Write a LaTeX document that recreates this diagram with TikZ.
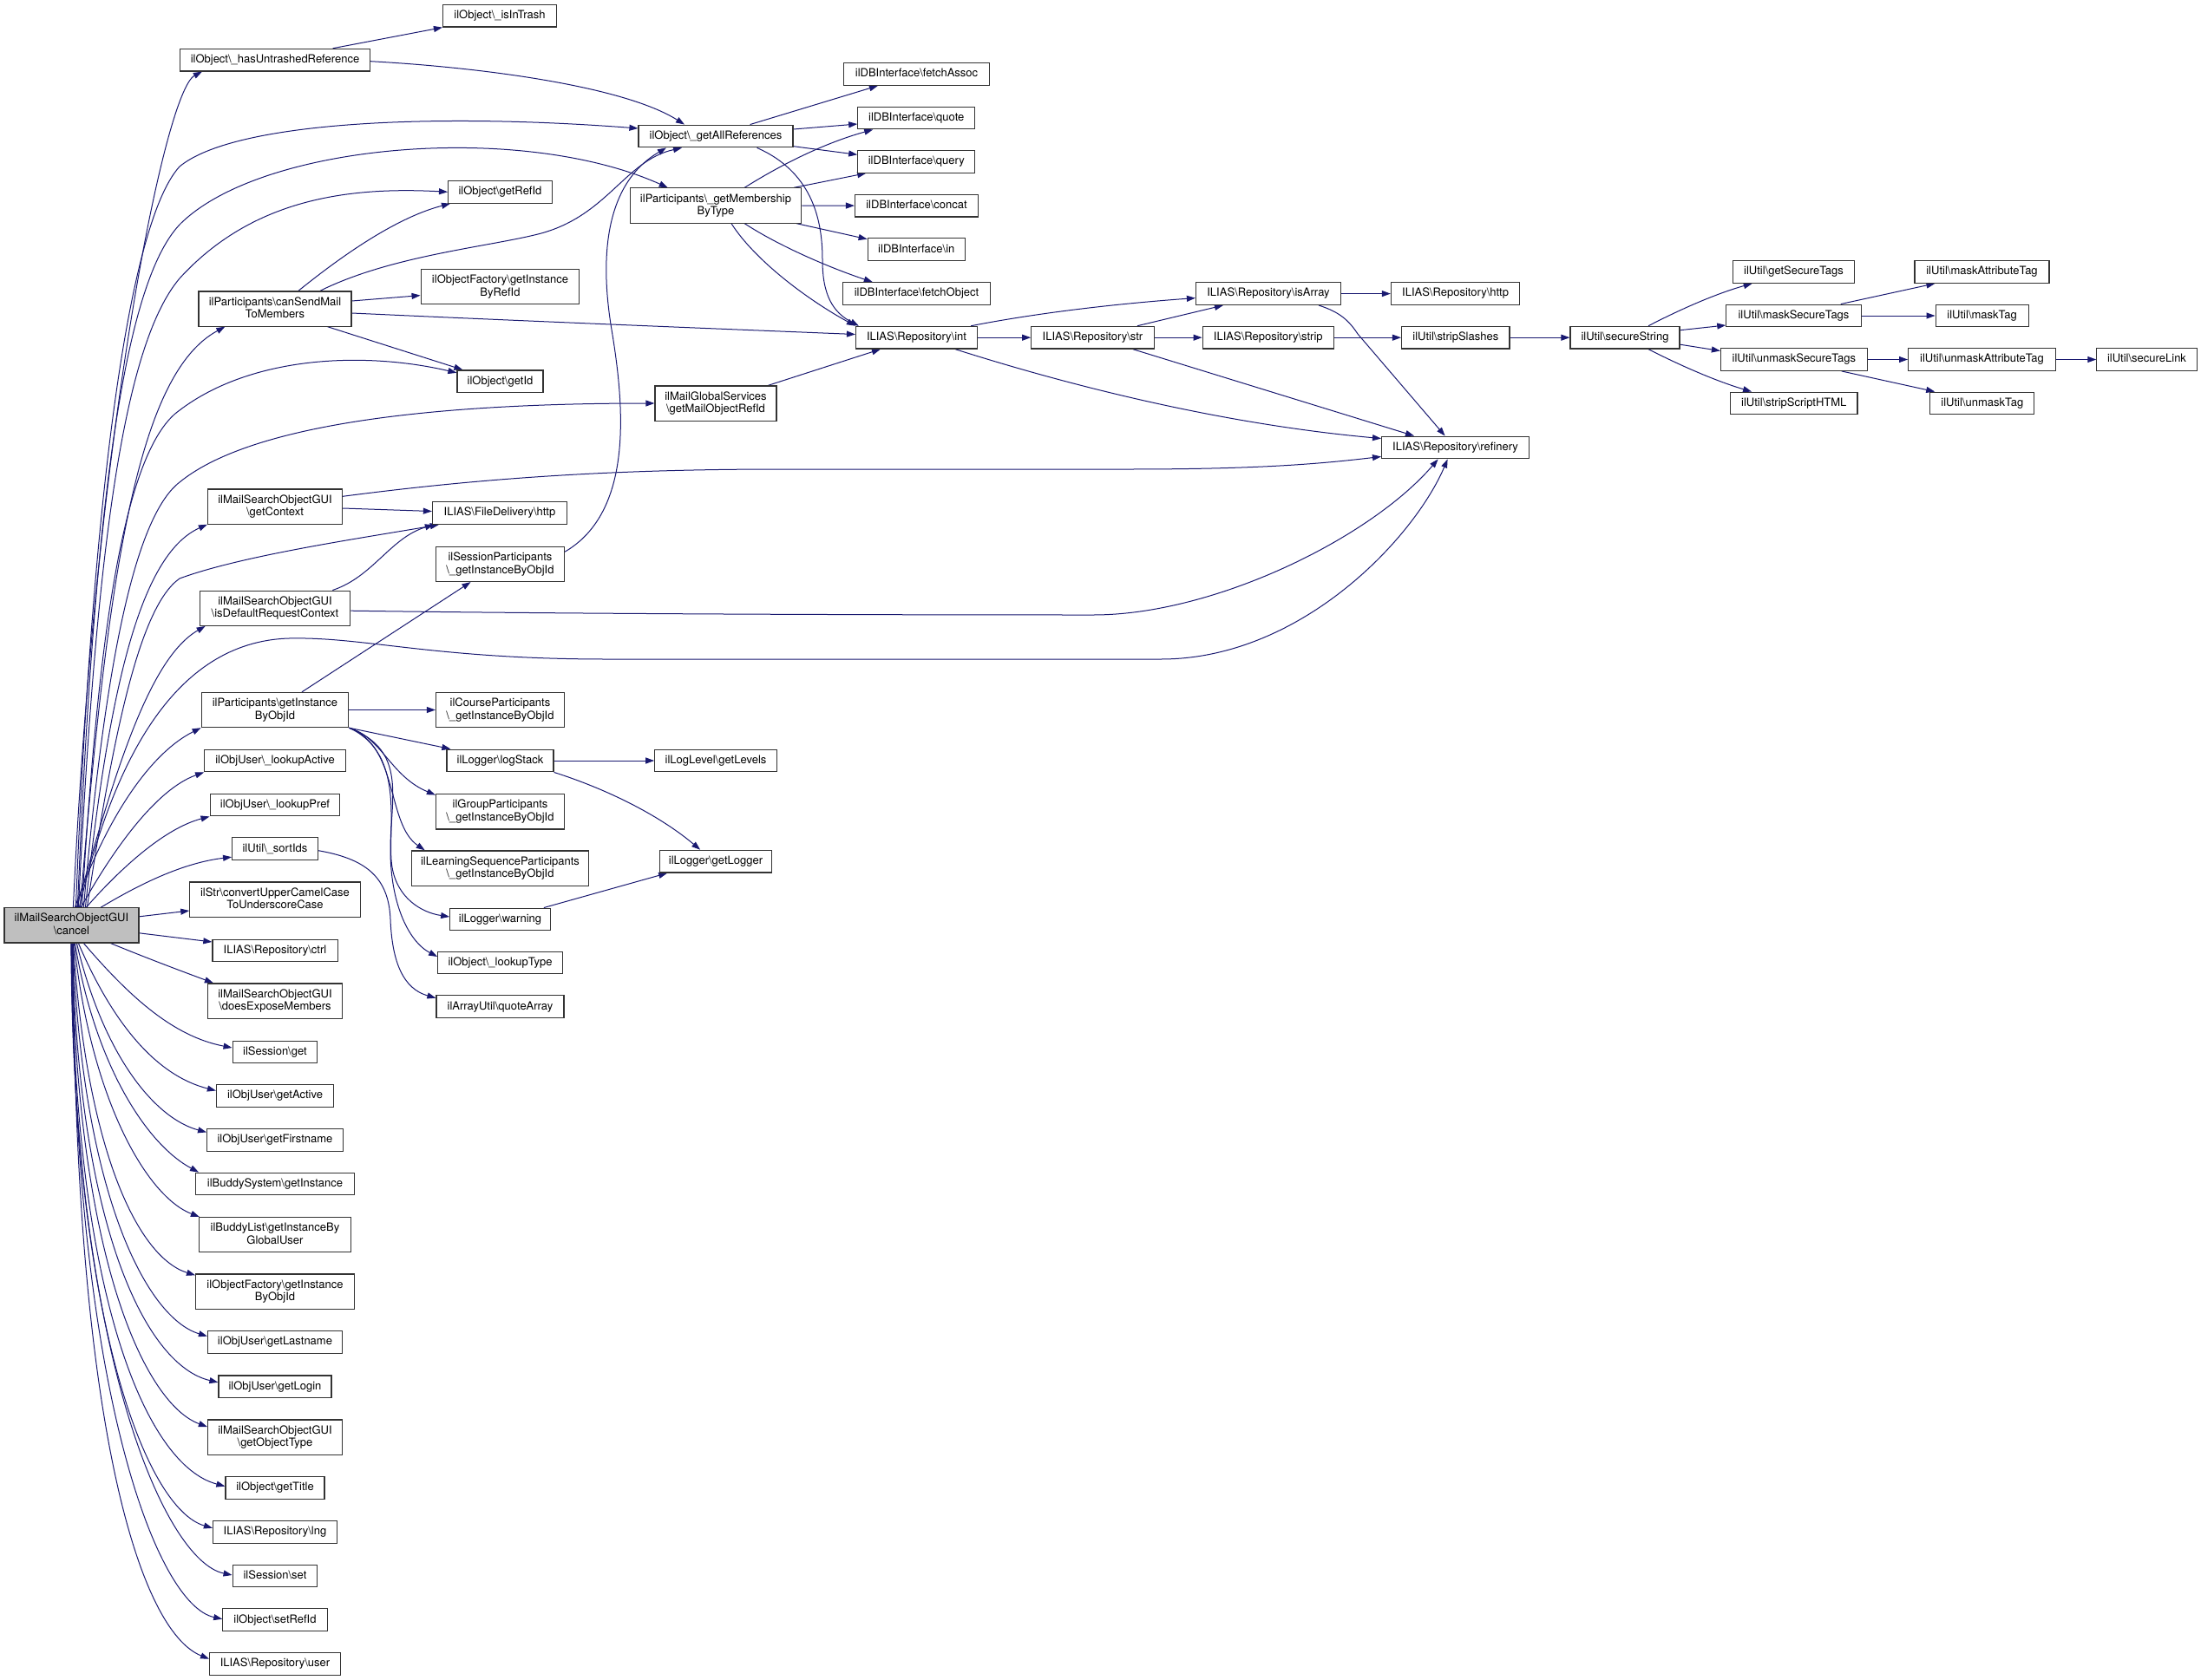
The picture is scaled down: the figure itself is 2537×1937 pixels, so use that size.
\documentclass[tikz,border=0pt]{standalone}
\usepackage{fontspec}
\setmainfont{TeX Gyre Heros}
\usetikzlibrary{arrows.meta,calc}
\pgfdeclarelayer{bg}
\pgfsetlayers{bg,main}
\definecolor{edgec}{HTML}{191970}
\definecolor{boxline}{HTML}{333333}
\definecolor{cancelfill}{HTML}{BFBFBF}
\begin{document}
\begin{tikzpicture}[x=1pt,y=-1pt,
  box/.style={draw=boxline, line width=1.2pt, fill=white, inner sep=0pt, align=center, font=\fontsize{13}{14.5}\selectfont},
  one/.style={box, text height=9.5pt, text depth=2.8pt, minimum height=25.7pt},
  two/.style={box, text height=24pt, text depth=2.8pt, minimum height=40.2pt},
  edge/.style={draw=edgec, line width=1pt, -{Triangle[length=10pt,width=7pt]}}]
\useasboundingbox (0,0) rectangle (2537,1937);
% root
\node[two, fill=cancelfill, minimum width=155pt] (cancel) at (82.4,1066.8) {ilMailSearchObjectGUI\\\textbackslash cancel};
% column A
\node[one, minimum width=219pt] (hasun) at (317,69.2) {ilObject\textbackslash\_hasUntrashedReference};
\node[two, minimum width=176pt] (cansend) at (317,356) {ilParticipants\textbackslash canSendMail\\ToMembers};
\node[two, minimum width=155pt] (getcontext) at (317,584) {ilMailSearchObjectGUI\\\textbackslash getContext};
\node[two, minimum width=173.5pt] (isdefault) at (317,701.2) {ilMailSearchObjectGUI\\\textbackslash isDefaultRequestContext};
\node[two, minimum width=169.6pt] (partinst) at (317,818.5) {ilParticipants\textbackslash getInstance\\ByObjId};
\node[one, minimum width=162.6pt] (lookupactive) at (317,877) {ilObjUser\textbackslash\_lookupActive};
\node[one, minimum width=149.7pt] (lookuppref) at (317,928) {ilObjUser\textbackslash\_lookupPref};
\node[one, minimum width=98.7pt] (sortids) at (317,978.7) {ilUtil\textbackslash\_sortIds};
\node[two, minimum width=196.3pt] (convert) at (317,1037) {ilStr\textbackslash convertUpperCamelCase\\ToUnderscoreCase};
\node[one, minimum width=144.2pt] (ctrl) at (317,1096) {ILIAS\textbackslash Repository\textbackslash ctrl};
\node[two, minimum width=155pt] (doesexpose) at (317,1154) {ilMailSearchObjectGUI\\\textbackslash doesExposeMembers};
\node[one, minimum width=97.7pt] (sessget) at (317,1213) {ilSession\textbackslash get};
\node[one, minimum width=135pt] (getactive) at (317,1263.5) {ilObjUser\textbackslash getActive};
\node[one, minimum width=156.7pt] (getfirstname) at (317,1314.4) {ilObjUser\textbackslash getFirstname};
\node[one, minimum width=182.7pt] (buddysys) at (317,1365) {ilBuddySystem\textbackslash getInstance};
\node[two, minimum width=175pt] (buddylist) at (317,1423.7) {ilBuddyList\textbackslash getInstanceBy\\GlobalUser};
\node[two, minimum width=182.7pt] (objfacobj) at (317,1489) {ilObjectFactory\textbackslash getInstance\\ByObjId};
\node[one, minimum width=155pt] (getlastname) at (317,1547.6) {ilObjUser\textbackslash getLastname};
\node[one, minimum width=130pt] (getlogin) at (317,1598.8) {ilObjUser\textbackslash getLogin};
\node[two, minimum width=155pt] (getobjtype) at (317,1657) {ilMailSearchObjectGUI\\\textbackslash getObjectType};
\node[one, minimum width=114pt] (gettitle) at (317,1715.6) {ilObject\textbackslash getTitle};
\node[one, minimum width=143pt] (lng) at (317,1766.3) {ILIAS\textbackslash Repository\textbackslash lng};
\node[one, minimum width=97.7pt] (sessset) at (317,1817) {ilSession\textbackslash set};
\node[one, minimum width=120.4pt] (setrefid) at (317,1867.7) {ilObject\textbackslash setRefId};
\node[one, minimum width=150.7pt] (user) at (317,1918.3) {ILIAS\textbackslash Repository\textbackslash user};
% column B
\node[one, minimum width=131pt] (isintrash) at (576,18.2) {ilObject\textbackslash\_isInTrash};
\node[one, minimum width=119.8pt] (getrefid) at (576.5,221.3) {ilObject\textbackslash getRefId};
\node[two, minimum width=182.7pt] (objfacref) at (576.5,330.6) {ilObjectFactory\textbackslash getInstance\\ByRefId};
\node[one, minimum width=99pt] (getid) at (576.5,439.8) {ilObject\textbackslash getId};
\node[one, minimum width=155.1pt] (filehttp) at (576,591.5) {ILIAS\textbackslash FileDelivery\textbackslash http};
\node[two, minimum width=148pt] (sesspart) at (576.5,650.4) {ilSessionParticipants\\\textbackslash\_getInstanceByObjId};
\node[two, minimum width=148pt] (coursepart) at (576.5,818.5) {ilCourseParticipants\\\textbackslash\_getInstanceByObjId};
\node[one, minimum width=123pt] (logstack) at (576.5,877) {ilLogger\textbackslash logStack};
\node[two, minimum width=148pt] (grouppart) at (576.5,935.8) {ilGroupParticipants\\\textbackslash\_getInstanceByObjId};
\node[two, minimum width=204.4pt] (lsopart) at (576.5,1001) {ilLearningSequenceParticipants\\\textbackslash\_getInstanceByObjId};
\node[one, minimum width=115.5pt] (warning) at (576.5,1060) {ilLogger\textbackslash warning};
\node[one, minimum width=143.6pt] (lookuptype) at (576.5,1110) {ilObject\textbackslash\_lookupType};
\node[one, minimum width=147pt] (quotearray) at (576.5,1160.7) {ilArrayUtil\textbackslash quoteArray};
% column C
\node[one, minimum width=178pt] (getallref) at (825,157) {ilObject\textbackslash\_getAllReferences};
\node[two, minimum width=197.3pt] (getmember) at (825,237) {ilParticipants\textbackslash\_getMembership\\ByType};
\node[two, minimum width=140pt] (mailglobal) at (825,465) {ilMailGlobalServices\\\textbackslash getMailObjectRefId};
\node[one, minimum width=140.5pt] (getlevels) at (825,877) {ilLogLevel\textbackslash getLevels};
\node[one, minimum width=128.5pt] (getlogger) at (825,993.2) {ilLogger\textbackslash getLogger};
% column D
\node[one, minimum width=168pt] (fetchassoc) at (1056.5,85.4) {ilDBInterface\textbackslash fetchAssoc};
\node[one, minimum width=135pt] (quote) at (1056.3,136) {ilDBInterface\textbackslash quote};
\node[one, minimum width=135pt] (query) at (1056.3,186.3) {ilDBInterface\textbackslash query};
\node[one, minimum width=142pt] (concat) at (1056.5,237.1) {ilDBInterface\textbackslash concat};
\node[one, minimum width=112.2pt] (in) at (1056.3,287.7) {ilDBInterface\textbackslash in};
\node[one, minimum width=170.2pt] (fetchobject) at (1056.5,338.6) {ilDBInterface\textbackslash fetchObject};
\node[one, minimum width=140pt] (int) at (1056.5,389.2) {ILIAS\textbackslash Repository\textbackslash int};
% further columns
\node[one, minimum width=141.5pt] (str) at (1259.5,389.2) {ILIAS\textbackslash Repository\textbackslash str};
\node[one, minimum width=167pt] (isarray) at (1462,338.6) {ILIAS\textbackslash Repository\textbackslash isArray};
\node[one, minimum width=151.3pt] (strip) at (1461.8,389.2) {ILIAS\textbackslash Repository\textbackslash strip};
\node[one, minimum width=148.3pt] (repohttp) at (1677.6,338.6) {ILIAS\textbackslash Repository\textbackslash http};
\node[one, minimum width=124.5pt] (stripslashes) at (1677.8,389.2) {ilUtil\textbackslash stripSlashes};
\node[one, minimum width=170pt] (refinery) at (1677.6,516) {ILIAS\textbackslash Repository\textbackslash refinery};
\node[one, minimum width=126pt] (securestring) at (1873,389.2) {ilUtil\textbackslash secureString};
\node[one, minimum width=140.4pt] (getsecuretags) at (2067.5,313.4) {ilUtil\textbackslash getSecureTags};
\node[one, minimum width=155.3pt] (masksecure) at (2067.5,364) {ilUtil\textbackslash maskSecureTags};
\node[one, minimum width=168.7pt] (unmasksecure) at (2067.8,414.5) {ilUtil\textbackslash unmaskSecureTags};
\node[one, minimum width=146.3pt] (stripscript) at (2067.8,465) {ilUtil\textbackslash stripScriptHTML};
\node[one, minimum width=155pt] (maskattr) at (2284.5,313.4) {ilUtil\textbackslash maskAttributeTag};
\node[one, minimum width=107pt] (masktag) at (2284.6,364) {ilUtil\textbackslash maskTag};
\node[one, minimum width=169.8pt] (unmaskattr) at (2284.5,414.5) {ilUtil\textbackslash unmaskAttributeTag};
\node[one, minimum width=120pt] (unmasktag) at (2284.8,465) {ilUtil\textbackslash unmaskTag};
\node[one, minimum width=115.3pt] (securelink) at (2474.5,414.5) {ilUtil\textbackslash secureLink};

\begin{pgfonlayer}{bg}
% from cancel, upward
\draw[edge] ($(cancel.north)+(2,0)$) .. controls (110,500) and (190,105) .. ($(hasun.south west)+(26,0)$);
\draw[edge] ($(cancel.north)+(5,0)$) .. controls (105,600) and (145,260) .. (207,192) .. controls (270,140) and (500,130) .. ($(getallref.west)+(0,-9)$);
\draw[edge] ($(cancel.north)+(7,0)$) .. controls (108,600) and (140,330) .. (207,259) .. controls (300,165) and (600,140) .. ($(getmember.north west)+(44,0)$);
\draw[edge] ($(cancel.north)+(8,0)$) .. controls (110,650) and (140,400) .. (207,321) .. controls (290,230) and (400,215) .. (getrefid.west);
\draw[edge] ($(cancel.north)+(10,0)$) .. controls (125,650) and (160,430) .. ($(cansend.south west)+(31,0)$);
\draw[edge] ($(cancel.north)+(12,0)$) .. controls (112,750) and (140,520) .. (207,473) .. controls (290,410) and (420,405) .. ($(getid.west)+(0,-10)$);
\draw[edge] ($(cancel.north)+(14,0)$) .. controls (118,800) and (150,600) .. (207,556) .. controls (300,480) and (550,465) .. (mailglobal.west);
\draw[edge] ($(cancel.north)+(16,0)$) .. controls (125,800) and (160,640) .. (getcontext.south west);
\draw[edge] ($(cancel.north)+(18,0)$) .. controls (130,850) and (160,700) .. (207,667) .. controls (280,640) and (420,620) .. ($(filehttp.south west)+(8,0)$);
\draw[edge] ($(cancel.north)+(6,0)$) .. controls (130,900) and (170,760) .. ($(isdefault.south west)+(7,0)$);
\draw[edge] ($(cancel.north)+(9,0)$) .. controls (130,880) and (200,740) .. (333,736) .. controls (420,734) and (500,760) .. (700,760) -- (1338,760) .. controls (1500,760) and (1630,620) .. ($(refinery.south)+(-9,0)$);
\draw[edge] ($(cancel.north)+(4,0)$) .. controls (120,950) and (170,870) .. (partinst.south west);
\draw[edge] ($(cancel.north)+(11,0)$) .. controls (130,980) and (180,910) .. (lookupactive.south west);
\draw[edge] ($(cancel.north)+(17,0)$) .. controls (140,1000) and (190,955) .. (lookuppref.south west);
\draw[edge] ($(cancel.north)+(34,0)$) .. controls (160,1020) and (210,995) .. ($(sortids.south west)+(0,-4)$);
% from cancel, sideways
\draw[edge] ($(cancel.east)+(0,-10)$) -- ($(convert.west)+(0,13)$);
\draw[edge] ($(cancel.east)+(0,9)$) -- ($(ctrl.west)+(0,-10)$);
% from cancel, downward
\draw[edge] ($(cancel.south)+(45,0)$) .. controls (170,1105) and (210,1120) .. ($(doesexpose.north west)+(7,0)$);
\draw[edge] ($(cancel.south)+(14,0)$) .. controls (150,1150) and (200,1195) .. ($(sessget.west)+(0,-5)$);
\draw[edge] ($(cancel.south)+(8,0)$) .. controls (130,1180) and (180,1240) .. ($(getactive.west)+(0,-6)$);
\draw[edge] ($(cancel.south)+(6,0)$) .. controls (120,1220) and (180,1290) .. ($(getfirstname.west)+(0,-9)$);
\draw[edge] ($(cancel.south)+(4,0)$) .. controls (110,1230) and (170,1320) .. ($(buddysys.north west)+(4,0)$);
\draw[edge] ($(cancel.south)+(3,0)$) .. controls (105,1270) and (170,1380) .. ($(buddylist.north west)+(1,0)$);
\draw[edge] ($(cancel.south)+(2,0)$) .. controls (100,1330) and (160,1450) .. ($(objfacobj.north west)+(0,2)$);
\draw[edge] ($(cancel.south)+(1.5,0)$) .. controls (95,1380) and (170,1520) .. ($(getlastname.west)+(0,-7)$);
\draw[edge] ($(cancel.south)+(1,0)$) .. controls (90,1420) and (170,1575) .. ($(getlogin.west)+(0,-5)$);
\draw[edge] ($(cancel.south)+(0.5,0)$) .. controls (88,1460) and (170,1620) .. ($(getobjtype.west)+(0,-12)$);
\draw[edge] ($(cancel.south)+(0,0)$) .. controls (85,1500) and (170,1690) .. ($(gettitle.west)+(0,-2)$);
\draw[edge] ($(cancel.south)+(-0.5,0)$) .. controls (84,1530) and (170,1740) .. ($(lng.west)+(0,-4.5)$);
\draw[edge] ($(cancel.south)+(0,0)$) .. controls (83,1560) and (190,1800) .. ($(sessset.west)+(0,-1)$);
\draw[edge] ($(cancel.south)+(1,0)$) .. controls (84,1600) and (180,1850) .. ($(setrefid.west)+(0,-1)$);
\draw[edge] ($(cancel.south)+(2,0)$) .. controls (85,1640) and (160,1880) .. ($(user.west)+(0,-5.6)$);
% hasUntrashedReference
\draw[edge] ($(hasun.north east)+(-43.5,0)$) -- (isintrash.south west);
\draw[edge] ($(hasun.east)+(0,1.5)$) .. controls (560,78) and (720,100) .. ($(getallref.north)+(-36,0)$);
% canSendMailToMembers
\draw[edge] ($(cansend.north)+(27,0)$) .. controls (400,290) and (460,250) .. ($(getrefid.south west)+(3,0)$);
\draw[edge] ($(cansend.north)+(52,0)$) .. controls (450,295) and (560,285) .. (620,270) .. controls (700,250) and (720,185) .. ($(getallref.south)+(-39,0)$);
\draw[edge] ($(cansend.east)+(0,-9)$) -- ($(objfacref.west)+(0,10)$);
\draw[edge] ($(cansend.east)+(0,5)$) .. controls (600,370) and (850,380) .. ($(int.west)+(0,-3.7)$);
\draw[edge] ($(cansend.south east)+(-28,0)$) -- ($(getid.north west)+(7,0)$);
% getContext / isDefaultRequestContext
\draw[edge] ($(getcontext.north east)+(0,9)$) .. controls (550,552) and (700,541) .. (900,541) -- (1300,541) .. controls (1450,541) and (1520,535) .. ($(refinery.south west)+(0,-3)$);
\draw[edge] ($(getcontext.east)+(0,2)$) -- ($(filehttp.west)+(0,-2)$);
\draw[edge] ($(isdefault.north east)+(-21,0)$) .. controls (430,665) and (450,620) .. ($(filehttp.south west)+(2,0)$);
\draw[edge] ($(isdefault.east)+(0,3)$) .. controls (600,707) and (900,709) .. (1260,709) .. controls (1400,709) and (1580,620) .. ($(refinery.south)+(-20,0)$);
% session participants
\draw[edge] ($(sesspart.north east)+(0,6.5)$) .. controls (730,590) and (720,470) .. (705,380) .. controls (690,290) and (700,210) .. ($(getallref.south)+(-57,0)$);
% ilParticipants getInstanceByObjId
\draw[edge] ($(partinst.north)+(31,0)$) -- ($(sesspart.south)+(-34,0)$);
\draw[edge] (partinst.east) -- (coursepart.west);
\draw[edge] (partinst.south east) -- ($(logstack.north west)+(5,0)$);
\draw[edge] (partinst.south east) .. controls (440,850) and (450,895) .. ($(grouppart.north west)+(0,1.5)$);
\draw[edge] (partinst.south east) .. controls (460,860) and (445,950) .. ($(lsopart.north west)+(16,0)$);
\draw[edge] (partinst.south east) .. controls (470,870) and (445,960) .. (452,1000) .. controls (458,1035) and (485,1052) .. ($(warning.west)+(0,-3)$);
\draw[edge] (partinst.south east) .. controls (470,865) and (450,920) .. (450,980) .. controls (450,1040) and (470,1085) .. ($(lookuptype.west)+(0,-7)$);
\draw[edge] ($(sortids.east)+(0,2)$) .. controls (420,990) and (448,1010) .. (450,1060) .. controls (452,1110) and (465,1140) .. ($(quotearray.west)+(0,-10)$);
% logger
\draw[edge] (logstack.east) -- (getlevels.west);
\draw[edge] (logstack.south east) .. controls (700,910) and (760,940) .. ($(getlogger.north west)+(47,0)$);
\draw[edge] ($(warning.north east)+(-8,0)$) -- ($(getlogger.south west)+(9,0)$);
% getAllReferences
\draw[edge] ($(getallref.north east)+(-50,0)$) -- ($(fetchassoc.south west)+(40,0)$);
\draw[edge] ($(getallref.east)+(0,-8)$) -- ($(quote.west)+(0,7)$);
\draw[edge] ($(getallref.east)+(0,11.7)$) -- ($(query.west)+(0,-8)$);
\draw[edge] ($(getallref.south east)+(-42,0)$) .. controls (940,200) and (948,260) .. (948,300) .. controls (948,340) and (960,360) .. ($(int.north west)+(4,0)$);
% getMembershipByType
\draw[edge] ($(getmember.north east)+(-66,0)$) .. controls (900,190) and (950,165) .. ($(quote.south west)+(18,0)$);
\draw[edge] ($(getmember.north east)+(-9,0)$) -- ($(query.south west)+(10,0)$);
\draw[edge] (getmember.east) -- (concat.west);
\draw[edge] ($(getmember.south east)+(-6,0)$) -- ($(in.west)+(0,-12)$);
\draw[edge] ($(getmember.south east)+(-66,0)$) .. controls (900,285) and (960,310) .. ($(fetchobject.north west)+(35,0)$);
\draw[edge] ($(getmember.south)+(18,0)$) .. controls (870,300) and (930,345) .. (int.north west);
% getMailObjectRefId
\draw[edge] ($(mailglobal.north east)+(-10,0)$) -- ($(int.south west)+(29,0)$);
% Repository chain
\draw[edge] (int.east) -- (str.west);
\draw[edge] ($(int.north east)+(-8,0)$) .. controls (1200,360) and (1290,350) .. ($(isarray.west)+(0,5)$);
\draw[edge] ($(int.south east)+(-26,0)$) .. controls (1250,450) and (1420,490) .. ($(refinery.north west)+(0,3)$);
\draw[edge] (str.east) -- (strip.west);
\draw[edge] ($(str.north east)+(-20,0)$) -- ($(isarray.south west)+(32,0)$);
\draw[edge] ($(str.south east)+(-25,0)$) -- ($(refinery.north west)+(38,0)$);
\draw[edge] (isarray.east) -- (repohttp.west);
\draw[edge] ($(isarray.south east)+(-26,0)$) .. controls (1545,360) and (1555,370) .. (1565,385) -- ($(refinery.north)+(-12,0)$);
\draw[edge] (strip.east) -- (stripslashes.west);
\draw[edge] (stripslashes.east) -- (securestring.west);
% secureString
\draw[edge] ($(securestring.north)+(27,0)$) .. controls (1940,355) and (1980,338) .. ($(getsecuretags.south west)+(23,0)$);
\draw[edge] ($(securestring.east)+(0,-8.5)$) -- ($(masksecure.west)+(0,11)$);
\draw[edge] ($(securestring.east)+(0,8)$) -- ($(unmasksecure.west)+(0,-10)$);
\draw[edge] ($(securestring.south)+(27,0)$) .. controls (1940,423) and (1980,440) .. ($(stripscript.north west)+(25,0)$);
\draw[edge] ($(masksecure.north east)+(-24,0)$) -- ($(maskattr.south west)+(24,0)$);
\draw[edge] (masksecure.east) -- (masktag.west);
\draw[edge] (unmasksecure.east) -- (unmaskattr.west);
\draw[edge] ($(unmasksecure.south east)+(-30,0)$) -- ($(unmasktag.north west)+(6,0)$);
\draw[edge] (unmaskattr.east) -- (securelink.west);
\end{pgfonlayer}
\end{tikzpicture}
\end{document}
